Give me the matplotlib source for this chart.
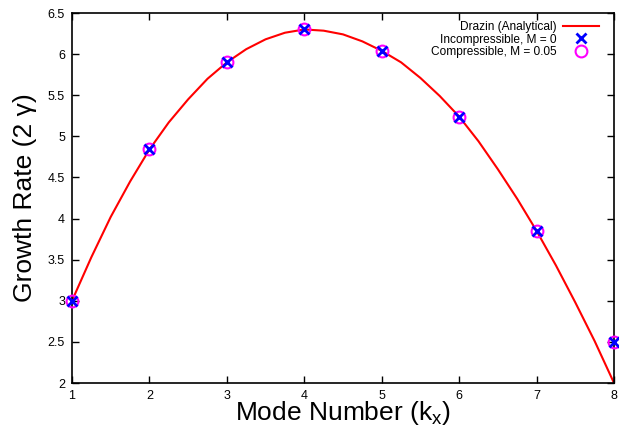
import matplotlib
matplotlib.use("Agg")
import matplotlib.pyplot as plt

plt.rcParams['font.family'] = ['Liberation Sans', 'DejaVu Sans']

# Drazin analytical curve
drazin_k = [1, 1.25, 1.5, 1.75, 2, 2.25, 2.5, 2.75, 3, 3.25, 3.5, 3.75, 4,
            4.25, 4.5, 4.75, 5, 5.25, 5.5, 5.75, 6, 6.25, 6.5, 6.75, 7,
            7.25, 7.5, 7.75, 8]
drazin_gamma = [3.0, 3.53, 4.02, 4.45, 4.84, 5.17, 5.45, 5.70, 5.90, 6.06,
                6.18, 6.26, 6.30, 6.285, 6.24, 6.155, 6.04, 5.90, 5.71, 5.49,
                5.24, 4.94, 4.60, 4.24, 3.85, 3.43, 2.98, 2.51, 2.0]

# simulation results
modes = [1, 2, 3, 4, 5, 6, 7, 8]
incompressible = [3.0, 4.84, 5.9, 6.3, 6.04, 5.24, 3.85, 2.5]
compressible = [3.0, 4.84, 5.9, 6.3, 6.04, 5.24, 3.85, 2.5]

fig = plt.figure(figsize=(6.19, 4.25), dpi=100)
ax = fig.add_axes([72 / 619, 1 - 383 / 425, 542 / 619, 370 / 425])

ax.plot(drazin_k, drazin_gamma, color='#ff0000', lw=1.5,
        label='Drazin (Analytical)', zorder=2)
ax.plot(modes, compressible, 'o', color='#ff00ff', mfc='none', ms=8.5, mew=1.5,
        label='Compressible, M = 0.05', zorder=3, clip_on=False)
ax.plot(modes, compressible, '.', color='#ff00ff', ms=3, zorder=3, clip_on=False)
ax.plot(modes, incompressible, 'x', color='#0000ff', ms=7.5, mew=2,
        label='Incompressible, M = 0', zorder=4, clip_on=False)

ax.set_xlim(1, 8)
ax.set_ylim(2, 6.5)
ax.set_xticks(modes)
ax.set_yticks([2, 2.5, 3, 3.5, 4, 4.5, 5, 5.5, 6, 6.5])
ax.set_yticklabels(['2', '2.5', '3', '3.5', '4', '4.5', '5', '5.5', '6', '6.5'])
ax.tick_params(direction='in', top=True, right=True, labelsize=9, length=5,
               width=1, pad=5)
for s in ax.spines.values():
    s.set_linewidth(1.2)

ax.set_xlabel('Mode Number (k$_\\mathregular{x}$)', fontsize=19, labelpad=-2)
ax.set_ylabel('Growth Rate (2 \u03b3)', fontsize=19, labelpad=8)

h, l = ax.get_legend_handles_labels()
order = [0, 2, 1]
ax.legend([h[i] for i in order], [l[i] for i in order], loc='upper right',
          bbox_to_anchor=(0.987, 1.0), markerfirst=False, frameon=False,
          fontsize=8.6, handlelength=3.0, labelspacing=0.02,
          borderaxespad=0.5, handletextpad=0.5, borderpad=0.2)

fig.savefig('out.png', dpi=100)
